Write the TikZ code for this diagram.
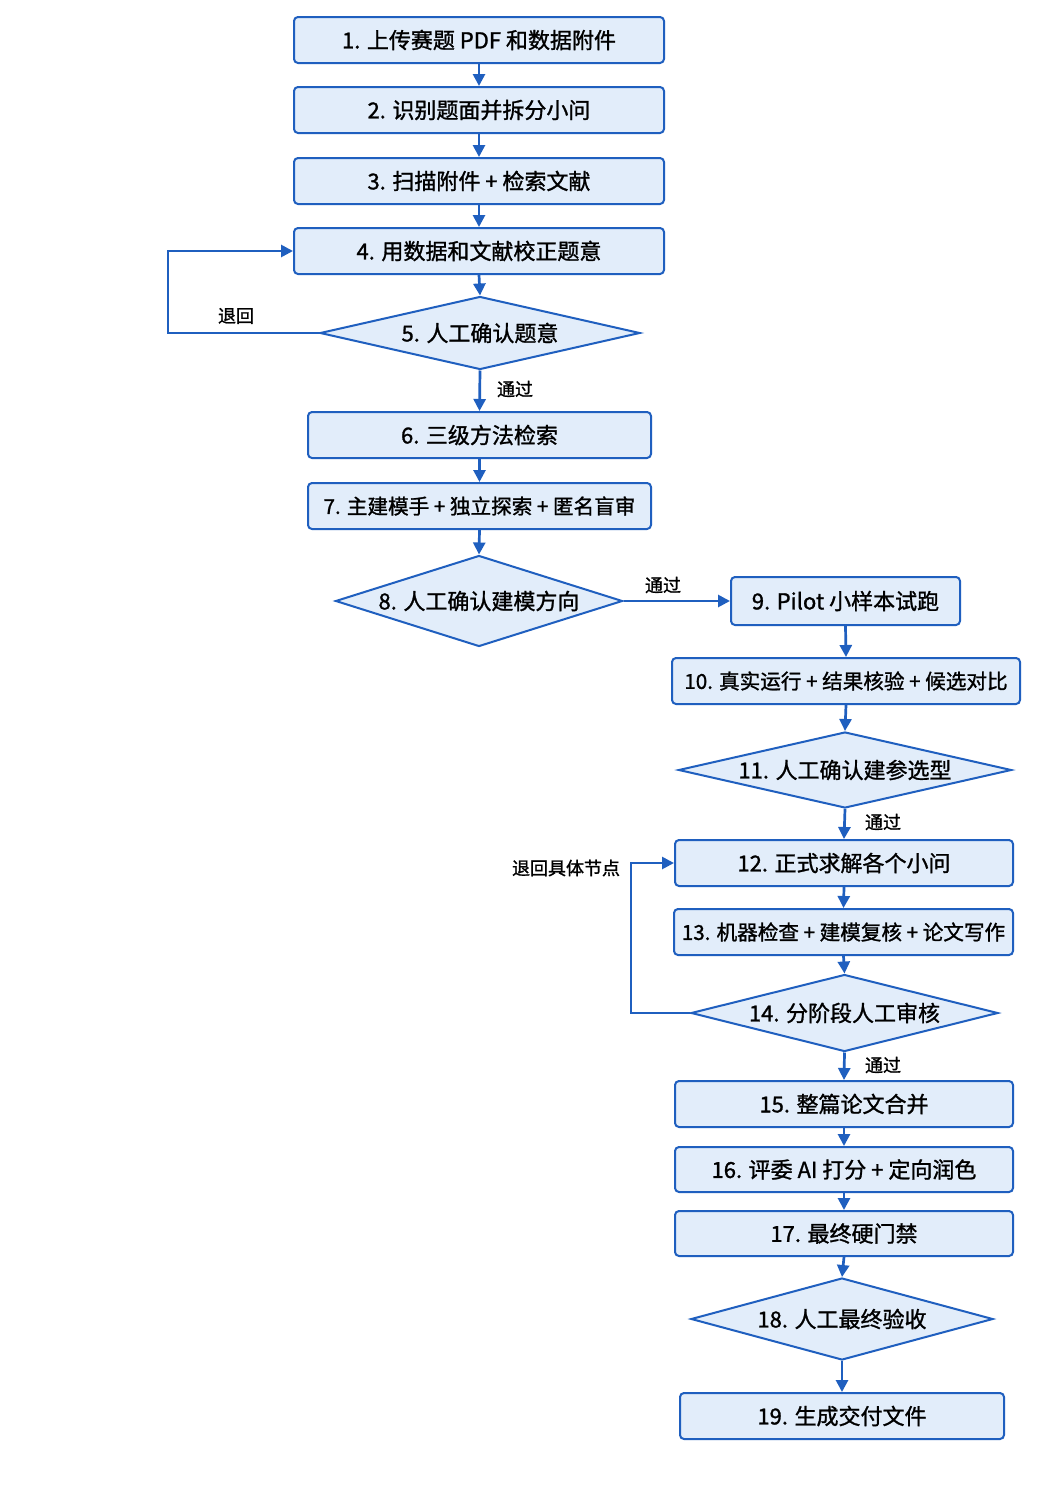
\documentclass[tikz,border=0pt]{standalone}
\usepackage{fontspec}
\setmainfont{Noto Sans CJK SC}[FakeBold=1.2]
\usetikzlibrary{shapes.geometric,arrows.meta}
\definecolor{edgeblue}{HTML}{1F5FBF}
\definecolor{fillblue}{HTML}{E2EDFA}
\begin{document}
\begin{tikzpicture}[x=1pt,y=-1pt,
 box/.style={draw=edgeblue,fill=fillblue,line width=2pt,rounded corners=4pt,minimum height=46pt,inner sep=0pt,font=\fontsize{22}{26}\selectfont},
 longbox/.style={box,font=\fontsize{20.6}{25}\selectfont},
 dia/.style={diamond,draw=edgeblue,fill=fillblue,line width=2pt,inner sep=0pt,aspect=4,font=\fontsize{22}{26}\selectfont},
 arr/.style={draw=edgeblue,line width=2.7pt,-{Triangle[length=12pt,width=12pt]}},
 lbl/.style={font=\fontsize{18}{20}\selectfont,fill=white,inner sep=1pt}]
\useasboundingbox[fill=white] (0,0) rectangle (1055,1491);

\node[box,minimum width=370pt] (b1) at (479,40) {1. 上传赛题 PDF 和数据附件};
\node[box,minimum width=370pt] (b2) at (479,110) {2. 识别题面并拆分小问};
\node[box,minimum width=370pt] (b3) at (479,181) {3. 扫描附件 + 检索文献};
\node[box,minimum width=370pt] (b4) at (479,251) {4. 用数据和文献校正题意};
\node[dia,minimum width=320pt,minimum height=73pt] (d5) at (480,333) {5. 人工确认题意};
\node[box,minimum width=343pt] (b6) at (479.5,435) {6. 三级方法检索};
\node[longbox,minimum width=343pt] (b7) at (479.5,506) {7. 主建模手 + 独立探索 + 匿名盲审};
\node[dia,minimum width=287pt,minimum height=91pt] (d8) at (479,601) {8. 人工确认建模方向};
\node[box,minimum width=229pt,minimum height=48pt] (b9) at (845.5,601) {9. Pilot 小样本试跑};
\node[longbox,minimum width=348pt] (b10) at (846,681) {10. 真实运行 + 结果核验 + 候选对比};
\node[dia,minimum width=333pt,minimum height=76pt] (d11) at (845,770) {11. 人工确认建参选型};
\node[box,minimum width=338pt] (b12) at (844,863) {12. 正式求解各个小问};
\node[longbox,minimum width=339pt] (b13) at (843.5,932) {13. 机器检查 + 建模复核 + 论文写作};
\node[dia,minimum width=307pt,minimum height=77pt] (d14) at (844.5,1013) {14. 分阶段人工审核};
\node[box,minimum width=338pt] (b15) at (844,1104) {15. 整篇论文合并};
\node[box,minimum width=338pt,minimum height=45pt] (b16) at (844,1169.5) {16. 评委 AI 打分 + 定向润色};
\node[box,minimum width=338pt,minimum height=45pt] (b17) at (844,1233.5) {17. 最终硬门禁};
\node[dia,minimum width=302pt,minimum height=82pt] (d18) at (842,1319) {18. 人工最终验收};
\node[box,minimum width=324pt] (b19) at (842,1416) {19. 生成交付文件};

\draw[arr] (b1.south) -- (b2.north);
\draw[arr] (b2.south) -- (b3.north);
\draw[arr] (b3.south) -- (b4.north);
\draw[arr] (b4.south) -- (d5.north);
\draw[arr] (d5.south) -- (b6.north);
\draw[arr] (b6.south) -- (b7.north);
\draw[arr] (b7.south) -- (d8.north);
\draw[arr] (d8.east) -- (b9.west);
\draw[arr] (b9.south) -- (b10.north);
\draw[arr] (b10.south) -- (d11.north);
\draw[arr] (d11.south) -- (b12.north);
\draw[arr] (b12.south) -- (b13.north);
\draw[arr] (b13.south) -- (d14.north);
\draw[arr] (d14.south) -- (b15.north);
\draw[arr] (b15.south) -- (b16.north);
\draw[arr] (b16.south) -- (b17.north);
\draw[arr] (b17.south) -- (d18.north);
\draw[arr] (d18.south) -- (b19.north);

\draw[arr] (d5.west) -- ++(-151,0) |- (b4.west);
\draw[arr] (d14.west) -- ++(-59,0) |- (b12.west);

\node[lbl] (l1) at (236,316) {退回};
\node[lbl] (l2) at (515,389) {通过};
\node[lbl] (l3) at (663,585) {通过};
\node[lbl] (l4) at (883,822) {通过};
\node[lbl] (l5) at (566,868) {退回具体节点};
\node[lbl] (l6) at (883,1065) {通过};
\end{tikzpicture}
\end{document}
